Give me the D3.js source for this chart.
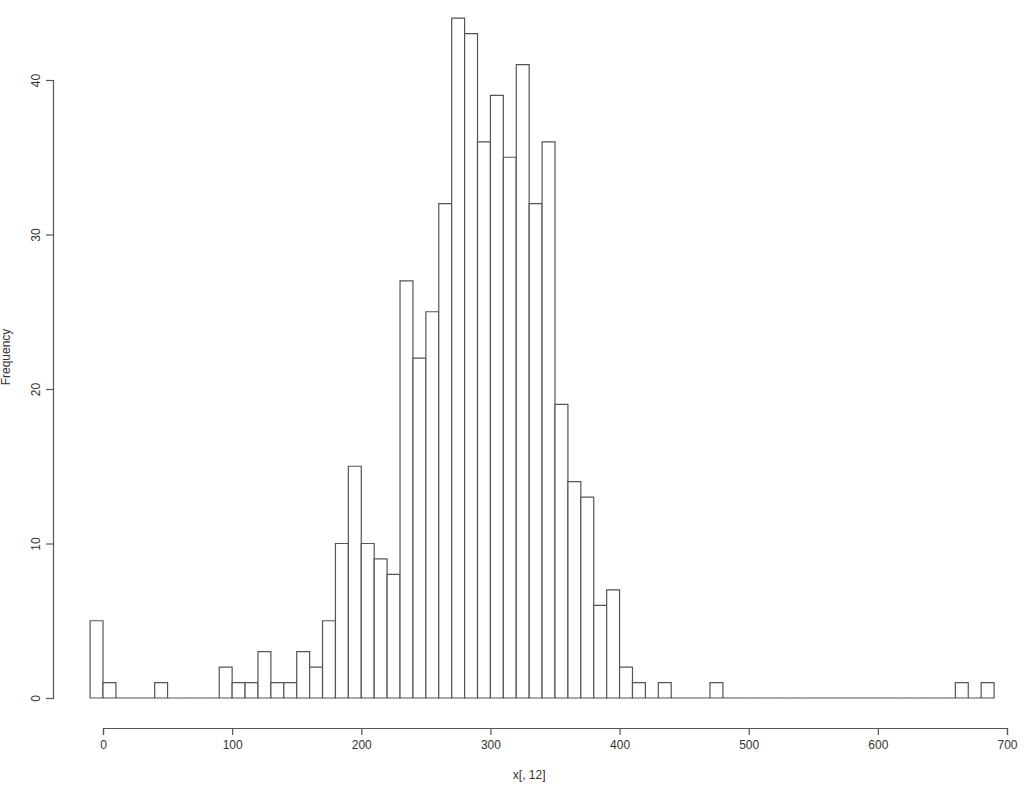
<!DOCTYPE html>
<html><head><meta charset="utf-8">
<script src="https://cdn.jsdelivr.net/npm/d3@7"></script>
<style>body{margin:0;background:#fff}svg{display:block}text{font-family:"Liberation Sans",Arial,sans-serif;fill:#333}</style>
</head><body>
<script>
const binStart = -10;
const binWidth = 10;
const counts = [5,1,0,0,0,1,0,0,0,0,2,1,1,3,1,1,3,2,5,10,15,10,9,8,27,22,25,32,44,43,36,39,35,41,32,36,19,14,13,6,7,2,1,0,1,0,0,0,1,
0,0,0,0,0,0,0,0,0,0,0,0,0,0,0,0,0,0,1,0,1];
const xTicks = [0,100,200,300,400,500,600,700];
const yTicks = [0,10,20,30,40];
const xLabel = "x[, 12]";
const yLabel = "Frequency";

const W=1024,H=796;
const svg=d3.select("body").append("svg").attr("width",W).attr("height",H);
const x=d3.scaleLinear().domain([0,700]).range([103,1007]);
const y=d3.scaleLinear().domain([0,40]).range([698,80]);
const stroke="#555";

const bins=counts.map((c,i)=>({x0:binStart+i*binWidth,x1:binStart+(i+1)*binWidth,c}));
svg.append("g").selectAll("path").data(bins).join("path")
  .attr("d",d=>{const a=x(d.x0),b=x(d.x1),t=y(d.c),z=y(0);return `M${a},${z}L${a},${t}L${b},${t}L${b},${z}Z`;})
  .attr("fill","#fff").attr("stroke",stroke).attr("stroke-width",1.2);

// x axis
const gx=svg.append("g").attr("transform","translate(0,728)")
  .call(d3.axisBottom(x).tickValues(xTicks).tickSize(7).tickPadding(5).tickFormat(d3.format("d")));
gx.select(".domain").attr("stroke",stroke).attr("stroke-width",1.2);
gx.selectAll(".tick line").attr("stroke",stroke).attr("stroke-width",1.2);
gx.selectAll(".tick text").attr("font-size",12).attr("fill","#333").attr("font-family","Liberation Sans, Arial, sans-serif");

// y axis
const gy=svg.append("g").attr("transform","translate(53,0)")
  .call(d3.axisLeft(y).tickValues(yTicks).tickSize(7).tickFormat(d3.format("d")));
gy.select(".domain").attr("stroke",stroke).attr("stroke-width",1.2);
gy.selectAll(".tick line").attr("stroke",stroke).attr("stroke-width",1.2);
gy.selectAll(".tick text").attr("font-size",12).attr("fill","#333").attr("font-family","Liberation Sans, Arial, sans-serif")
  .attr("transform","translate(-17,0) rotate(-90)").attr("x",0).attr("y",0).attr("dy","0.35em").attr("text-anchor","middle");

svg.append("text").attr("x",x(330)).attr("y",779).attr("text-anchor","middle").attr("font-size",12).text(xLabel);
svg.append("text").attr("transform","translate(10,357) rotate(-90)").attr("text-anchor","middle").attr("font-size",12).text(yLabel);
</script>
</body></html>
